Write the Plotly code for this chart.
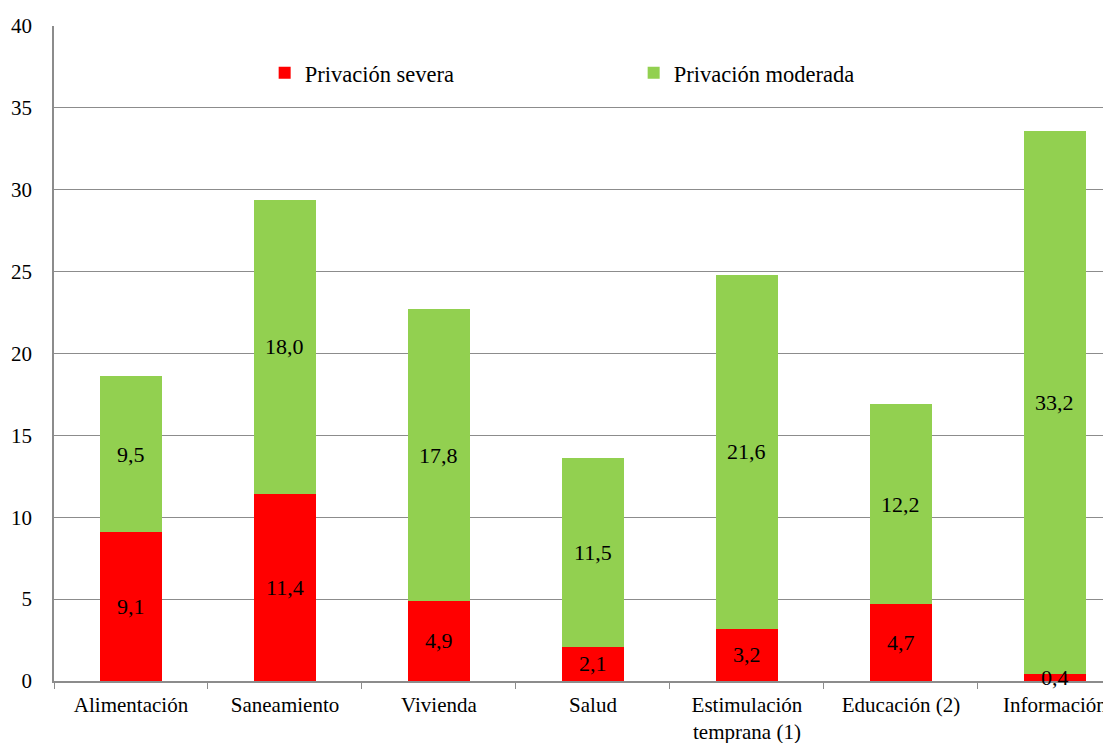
import plotly.graph_objects as go

categories = ["Alimentación", "Saneamiento", "Vivienda", "Salud",
              "Estimulación<br>temprana (1)", "Educación (2)", "Información"]
severa = [9.1, 11.4, 4.9, 2.1, 3.2, 4.7, 0.4]
moderada = [9.5, 18.0, 17.8, 11.5, 21.6, 12.2, 33.2]
y_ticks = [0, 5, 10, 15, 20, 25, 30, 35, 40]

FONT = "Liberation Serif"
GRID = "#8c8c8c"

fig = go.Figure()
fig.add_trace(go.Bar(x=categories, y=severa, name="Privación severa",
                     marker=dict(color="#FF0000", line=dict(width=0)), width=0.4))
fig.add_trace(go.Bar(x=categories, y=moderada, name="Privación moderada",
                     marker=dict(color="#92D050", line=dict(width=0)), width=0.4))

def fmt(v):
    return f"{v:.1f}".replace(".", ",")

for c, s, m in zip(categories, severa, moderada):
    fig.add_annotation(x=c, y=s / 2, text=fmt(s), showarrow=False,
                       font=dict(family=FONT, size=22, color="black"))
    fig.add_annotation(x=c, y=s + m / 2, text=fmt(m), showarrow=False,
                       font=dict(family=FONT, size=22, color="black"))

fig.update_layout(
    barmode="stack",
    width=1103, height=735,
    margin=dict(l=46, r=0, t=18, b=62, autoexpand=False),
    paper_bgcolor="white", plot_bgcolor="white",
    font=dict(family=FONT, size=22, color="black"),
    showlegend=True,
    legend=dict(orientation="h", traceorder="normal", x=0.1993, xanchor="left",
                y=0.928, yanchor="middle",
                entrywidth=324, font=dict(family=FONT, size=22.5),
                bgcolor="rgba(0,0,0,0)", itemsizing="constant"),
)
fig.update_xaxes(range=[-0.5, 6.364], showline=True, linecolor=GRID, linewidth=1.5,
                 ticks="outside", tickson="boundaries", ticklen=6, tickcolor=GRID,
                 ticklabelstandoff=4,
                 tickfont=dict(family=FONT, size=21), showgrid=False, automargin=False)
fig.update_yaxes(range=[0, 40], tickvals=y_ticks, showline=True, linecolor=GRID, linewidth=1.5,
                 gridcolor=GRID, gridwidth=1, ticks="", ticklabelstandoff=16,
                 tickfont=dict(family=FONT, size=21), zeroline=False, automargin=False)

fig.write_html("out.html")
